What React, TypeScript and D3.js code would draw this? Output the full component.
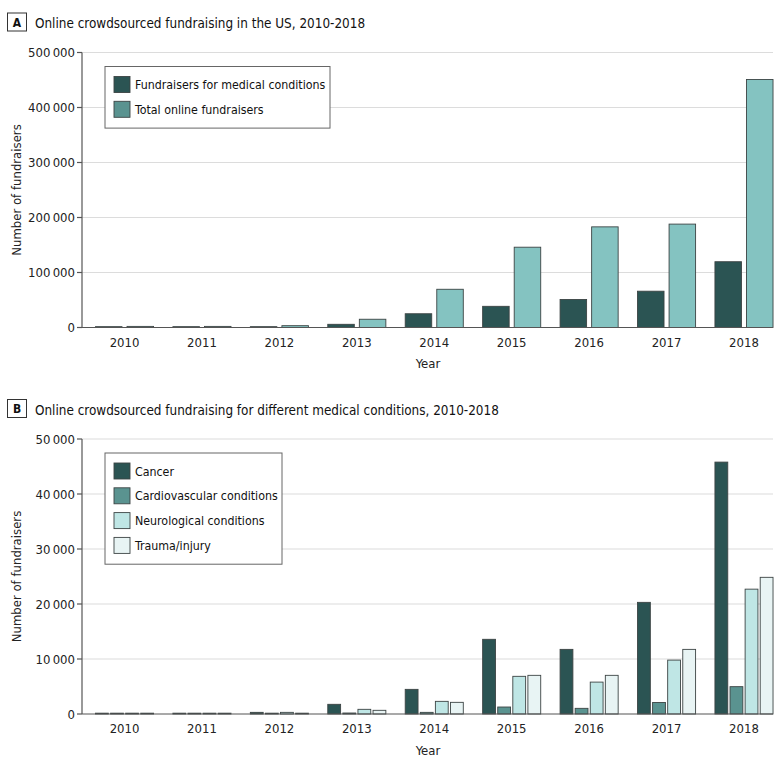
import React from 'react';
import * as d3 from 'd3';

const years = ['2010', '2011', '2012', '2013', '2014', '2015', '2016', '2017', '2018'];

// panel A
const seriesA = ['Fundraisers for medical conditions', 'Total online fundraisers'];
const medicalFundraisers = [1500, 1500, 1500, 5800, 25000, 38500, 51000, 66000, 119600];
const totalFundraisers = [2000, 2000, 3300, 15000, 69500, 146000, 183000, 188000, 451000];
const ticksA = [0, 100000, 200000, 300000, 400000, 500000];

// panel B
const seriesB = ['Cancer', 'Cardiovascular conditions', 'Neurological conditions', 'Trauma/injury'];
const cancer = [150, 150, 300, 1760, 4480, 13580, 11750, 20300, 45800];
const cardiovascular = [150, 150, 150, 180, 300, 1270, 1030, 2100, 4970];
const neurological = [150, 150, 300, 850, 2300, 6850, 5800, 9800, 22700];
const trauma = [150, 150, 150, 670, 2120, 7030, 7030, 11750, 24850];
const ticksB = [0, 10000, 20000, 30000, 40000, 50000];

const FONT = '"DejaVu Sans Condensed", "Liberation Sans Narrow", "Noto Sans", sans-serif';
const AXIS_X = 82;
const PLOT_RIGHT = 773;

const fmt = (v: number) => {
  const s = String(v);
  if (s.length <= 3) return s;
  return s.slice(0, s.length - 3) + '\u2009' + s.slice(s.length - 3);
};

interface PanelProps {
  letter: string;
  title: string;
  top: number;
  yMax: number;
  ticks: number[];
  series: string[];
  values: number[][];
  barFills: string[];
  legendFills: string[];
  legendWidth: number;
}

const Panel: React.FC<PanelProps> = ({ letter, title, top, yMax, ticks, series, values, barFills, legendFills, legendWidth }) => {
  const y0 = top + 314.5;
  const yTop = top + 39.5;

  const x = d3.scaleBand<string>()
    .domain(years)
    .range([85.8, 782.7])
    .paddingInner(0.25)
    .paddingOuter(0.125);

  const inner = d3.scaleBand<string>()
    .domain(series)
    .range([0, x.bandwidth()])
    .paddingInner(series.length > 2 ? 0.15 : 0.16);

  const y = d3.scaleLinear().domain([0, yMax]).range([y0, yTop]);

  const legX = 105;
  const legY = top + 53.5;
  const rowH = 24.8;
  const legH = series.length * rowH + 12;

  return (
    <g>
      {/* panel letter + title */}
      <rect x={7.5} y={top} width={19} height={18} fill="#fff" stroke="#333" strokeWidth={1} />
      <text x={17} y={top + 13.5} textAnchor="middle" fontSize={12} fontWeight="bold" fill="#111" fontFamily={FONT}>{letter}</text>
      <text x={35} y={top + 15} fontSize={13.4} fill="#111" fontFamily={FONT}>{title}</text>

      {/* gridlines */}
      {ticks.filter(t => t > 0).map(t => (
        <line key={t} x1={AXIS_X} x2={PLOT_RIGHT} y1={y(t)} y2={y(t)} stroke="#dcdcdc" strokeWidth={1.2} />
      ))}

      {/* bars */}
      {years.map((yr, i) => (
        <g key={yr} transform={`translate(${x(yr)},0)`}>
          {series.map((s, j) => (
            <rect
              key={s}
              x={inner(s)}
              y={y(values[j][i])}
              width={inner.bandwidth()}
              height={y0 - y(values[j][i])}
              fill={barFills[j]}
              stroke="#3c4444"
              strokeWidth={0.9}
            />
          ))}
        </g>
      ))}

      {/* y axis */}
      <line x1={AXIS_X} x2={AXIS_X} y1={yTop} y2={y0} stroke="#555" strokeWidth={1.2} />
      {ticks.map(t => (
        <g key={t}>
          <line x1={AXIS_X - 5} x2={AXIS_X} y1={y(t)} y2={y(t)} stroke="#555" strokeWidth={1.2} />
          <text x={AXIS_X - 7} y={y(t) + 4.6} textAnchor="end" fontSize={13} fill="#222" fontFamily={FONT}>{fmt(t)}</text>
        </g>
      ))}
      <text
        transform={`translate(20.5,${(y0 + yTop) / 2}) rotate(-90)`}
        textAnchor="middle"
        fontSize={13}
        fill="#222"
        fontFamily={FONT}
      >Number of fundraisers</text>

      {/* x axis */}
      <line x1={AXIS_X} x2={PLOT_RIGHT} y1={y0} y2={y0} stroke="#555" strokeWidth={1.2} />
      {years.map(yr => (
        <text key={yr} x={(x(yr) ?? 0) + x.bandwidth() / 2} y={y0 + 19} textAnchor="middle" fontSize={13} fill="#222" fontFamily={FONT}>{yr}</text>
      ))}
      <text x={428} y={y0 + 40.5} textAnchor="middle" fontSize={13} fill="#222" fontFamily={FONT}>Year</text>

      {/* legend */}
      <rect x={legX} y={legY} width={legendWidth} height={legH} fill="#fff" stroke="#666" strokeWidth={1} />
      {series.map((s, j) => (
        <g key={s} transform={`translate(${legX + 9},${legY + 10 + j * rowH})`}>
          <rect x={0} y={0} width={16} height={16} fill={legendFills[j]} stroke="#3c4444" strokeWidth={0.9} />
          <text x={21} y={12.5} fontSize={12.3} fill="#111" fontFamily={FONT}>{s}</text>
        </g>
      ))}
    </g>
  );
};

const App: React.FC = () => {
  const dark = '#2b5453';
  const mid = '#5a9390';
  return (
    <svg width={780} height={769} style={{ position: 'absolute', left: 0, top: 0, background: '#fff' }}>
      <rect width={780} height={769} fill="#fff" />
      <Panel
        letter="A"
        title="Online crowdsourced fundraising in the US, 2010-2018"
        top={13}
        yMax={500000}
        ticks={ticksA}
        series={seriesA}
        values={[medicalFundraisers, totalFundraisers]}
        barFills={[dark, '#84c3c1']}
        legendFills={[dark, mid]}
        legendWidth={225}
      />
      <Panel
        letter="B"
        title="Online crowdsourced fundraising for different medical conditions, 2010-2018"
        top={399.5}
        yMax={50000}
        ticks={ticksB}
        series={seriesB}
        values={[cancer, cardiovascular, neurological, trauma]}
        barFills={[dark, mid, '#bfe6e5', '#e8f4f4']}
        legendFills={[dark, mid, '#bfe6e5', '#e8f4f4']}
        legendWidth={177}
      />
    </svg>
  );
};

export default App;
